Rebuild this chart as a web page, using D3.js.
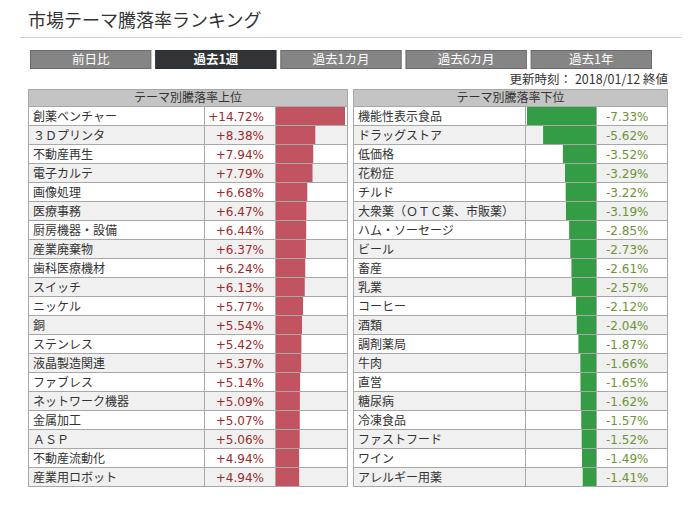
<!DOCTYPE html>
<html><head><meta charset="utf-8">
<script src="https://cdn.jsdelivr.net/npm/d3@7"></script>
<style>
html,body{margin:0;padding:0;background:#fff;}
svg{display:block;}
</style></head>
<body>
<svg id="chart" width="691" height="511"></svg>
<script>
const title = "市場テーマ騰落率ランキング";
const tabLabels = ["前日比", "過去1週", "過去1カ月", "過去6カ月", "過去1年"];
const activeTab = "過去1週";
const updateText = "更新時刻： 2018/01/12 終値";
const topHeader = "テーマ別騰落率上位";
const bottomHeader = "テーマ別騰落率下位";
const topNames = ["創薬ベンチャー","３Ｄプリンタ","不動産再生","電子カルテ","画像処理","医療事務","厨房機器・設備","産業廃棄物","歯科医療機材","スイッチ","ニッケル","銅","ステンレス","液晶製造関連","ファブレス","ネットワーク機器","金属加工","ＡＳＰ","不動産流動化","産業用ロボット"];
const topValues = [14.72,8.38,7.94,7.79,6.68,6.47,6.44,6.37,6.24,6.13,5.77,5.54,5.42,5.37,5.14,5.09,5.07,5.06,4.94,4.94];
const bottomNames = ["機能性表示食品","ドラッグストア","低価格","花粉症","チルド","大衆薬（ＯＴＣ薬、市販薬）","ハム・ソーセージ","ビール","畜産","乳業","コーヒー","酒類","調剤薬局","牛肉","直営","糖尿病","冷凍食品","ファストフード","ワイン","アレルギー用薬"];
const bottomValues = [-7.33,-5.62,-3.52,-3.29,-3.22,-3.19,-2.85,-2.73,-2.61,-2.57,-2.12,-2.04,-1.87,-1.66,-1.65,-1.62,-1.57,-1.52,-1.49,-1.41];

const svg = d3.select("#chart");
const cjk = "'Noto Sans CJK JP','Noto Sans',sans-serif";
const num = "'DejaVu Sans',sans-serif";

// title
svg.append("text").attr("x", 28).attr("y", 27).attr("font-family", cjk)
  .attr("font-size", 18).attr("fill", "#333").text(title);
svg.append("line").attr("x1", 20).attr("x2", 682).attr("y1", 37.5).attr("y2", 37.5)
  .attr("stroke", "#d0d0d0").attr("stroke-width", 1);

// tabs
const tabX = d3.scaleBand().domain(tabLabels).range([30, 652]).paddingInner(0.03);
const tabs = svg.selectAll("g.tab").data(tabLabels).join("g").attr("class", "tab");
tabs.append("rect")
  .attr("x", d => tabX(d) + 0.5).attr("y", 50.5)
  .attr("width", tabX.bandwidth() - 1).attr("height", 18)
  .attr("fill", d => d === activeTab ? "#333333" : "#858585")
  .attr("stroke", d => d === activeTab ? "#1d3146" : "#6a6a6a");
tabs.append("text")
  .attr("x", d => tabX(d) + tabX.bandwidth() / 2).attr("y", 64)
  .attr("text-anchor", "middle").attr("font-family", cjk).attr("font-size", 12.5)
  .attr("font-weight", d => d === activeTab ? "bold" : "normal")
  .attr("fill", "#fff").text(d => d);

svg.append("text").attr("x", 668).attr("y", 84).attr("text-anchor", "end")
  .attr("font-family", cjk).attr("font-size", 12.5).attr("fill", "#333").text(updateText);

const rowH = 19, headTop = 89, rowTop = 106;
const yRow = d3.scaleBand().domain(d3.range(20)).range([rowTop, rowTop + 20 * rowH]);
const grid = "#a8a8a8";

function table(opts) {
  const g = svg.append("g");
  const {x0, x1, cols, names, values, header, barCol, valCol, scale, barColor, textColor, align} = opts;
  // header
  g.append("rect").attr("x", x0 + 0.5).attr("y", headTop + 0.5).attr("width", x1 - x0 - 1)
    .attr("height", rowTop - headTop).attr("fill", "#c4c4c4").attr("stroke", grid);
  g.append("text").attr("x", (x0 + x1) / 2).attr("y", headTop + 13).attr("text-anchor", "middle")
    .attr("font-family", cjk).attr("font-size", 12).attr("fill", "#333").text(header);
  // rows background
  g.selectAll("rect.row").data(names).join("rect").attr("class", "row")
    .attr("x", x0 + 0.5).attr("y", (d, i) => yRow(i) + 0.5).attr("width", x1 - x0 - 1).attr("height", rowH)
    .attr("fill", (d, i) => i % 2 ? "#f0f0f0" : "#ffffff").attr("stroke", grid);
  // bars
  g.selectAll("rect.bar").data(values).join("rect").attr("class", "bar")
    .attr("x", d => barCol.dir > 0 ? barCol.x0 + 1 : barCol.x1 - scale(Math.abs(d)))
    .attr("y", (d, i) => yRow(i) + 1).attr("height", rowH - 1)
    .attr("width", d => scale(Math.abs(d))).attr("fill", barColor);
  // column separators
  cols.forEach(cx => g.append("line").attr("x1", cx + 0.5).attr("x2", cx + 0.5)
    .attr("y1", rowTop).attr("y2", rowTop + 20 * rowH).attr("stroke", grid));
  // names
  g.selectAll("text.name").data(names).join("text").attr("class", "name")
    .attr("x", x0 + 5).attr("y", (d, i) => yRow(i) + 14.5)
    .attr("font-family", cjk).attr("font-size", 12).attr("fill", "#333").text(d => d);
  // values
  g.selectAll("text.val").data(values).join("text").attr("class", "val")
    .attr("x", align === "end" ? valCol.x1 - 11 : valCol.x0 + 10)
    .attr("y", (d, i) => yRow(i) + 14.5).attr("text-anchor", align)
    .attr("font-family", num).attr("font-size", 12).attr("fill", textColor)
    .text(d => (d > 0 ? "+" : "") + d.toFixed(2) + "%");
}

const topScale = d3.scaleLinear().domain([0, d3.max(topValues)]).range([0, 69]);
table({x0: 28, x1: 348, cols: [204, 275], names: topNames, values: topValues, header: topHeader,
  barCol: {x0: 275, x1: 347, dir: 1}, valCol: {x0: 204, x1: 275}, scale: topScale,
  barColor: "#c25360", textColor: "#9e2a2e", align: "end"});

const botScale = d3.scaleLinear().domain([0, d3.max(bottomValues, d => Math.abs(d))]).range([0, 69]);
table({x0: 353, x1: 668, cols: [525, 596], names: bottomNames, values: bottomValues, header: bottomHeader,
  barCol: {x0: 525, x1: 596, dir: -1}, valCol: {x0: 596, x1: 667}, scale: botScale,
  barColor: "#339c44", textColor: "#6e9334", align: "start"});
</script>
</body></html>
